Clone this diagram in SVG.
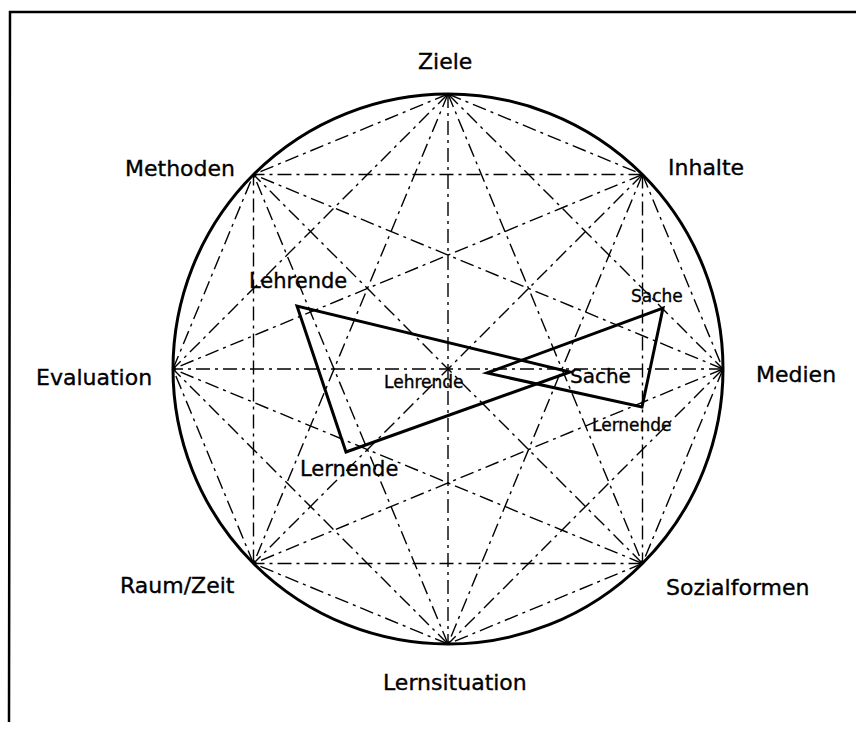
<svg xmlns="http://www.w3.org/2000/svg" width="856" height="730" viewBox="0 0 856 730">
<style>
.frame{stroke:#000;stroke-width:2.5;fill:none}
.circle{stroke:#000;stroke-width:3;fill:none}
.chord{stroke:#000;stroke-width:1.4;fill:none;stroke-dasharray:14 5 3 5}
.tri{stroke:#000;stroke-width:3;fill:none;stroke-linejoin:miter}
text{font-family:"DejaVu Sans","Liberation Sans",sans-serif;fill:#000;stroke:#000;stroke-width:0.35}
.lbl{font-size:22px}
.mid{font-size:20px}
.sm{font-size:17px}
</style>
<rect width="856" height="730" fill="#fff"/>
<g id="frame">
<path class="frame" d="M856,12 L10,12 L9,722"/>
</g>
<g id="connectors">
<line class="chord" x1="448" y1="94" x2="642.5" y2="174.5"/>
<line class="chord" x1="448" y1="94" x2="723" y2="369"/>
<line class="chord" x1="448" y1="94" x2="642.5" y2="563.5"/>
<line class="chord" x1="448" y1="94" x2="448" y2="644"/>
<line class="chord" x1="448" y1="94" x2="253.5" y2="563.5"/>
<line class="chord" x1="448" y1="94" x2="173" y2="369"/>
<line class="chord" x1="448" y1="94" x2="253.5" y2="174.5"/>
<line class="chord" x1="642.5" y1="174.5" x2="723" y2="369"/>
<line class="chord" x1="642.5" y1="174.5" x2="642.5" y2="563.5"/>
<line class="chord" x1="642.5" y1="174.5" x2="448" y2="644"/>
<line class="chord" x1="642.5" y1="174.5" x2="253.5" y2="563.5"/>
<line class="chord" x1="642.5" y1="174.5" x2="173" y2="369"/>
<line class="chord" x1="642.5" y1="174.5" x2="253.5" y2="174.5"/>
<line class="chord" x1="723" y1="369" x2="642.5" y2="563.5"/>
<line class="chord" x1="723" y1="369" x2="448" y2="644"/>
<line class="chord" x1="723" y1="369" x2="253.5" y2="563.5"/>
<line class="chord" x1="723" y1="369" x2="173" y2="369"/>
<line class="chord" x1="723" y1="369" x2="253.5" y2="174.5"/>
<line class="chord" x1="642.5" y1="563.5" x2="448" y2="644"/>
<line class="chord" x1="642.5" y1="563.5" x2="253.5" y2="563.5"/>
<line class="chord" x1="642.5" y1="563.5" x2="173" y2="369"/>
<line class="chord" x1="642.5" y1="563.5" x2="253.5" y2="174.5"/>
<line class="chord" x1="448" y1="644" x2="253.5" y2="563.5"/>
<line class="chord" x1="448" y1="644" x2="173" y2="369"/>
<line class="chord" x1="448" y1="644" x2="253.5" y2="174.5"/>
<line class="chord" x1="253.5" y1="563.5" x2="173" y2="369"/>
<line class="chord" x1="253.5" y1="563.5" x2="253.5" y2="174.5"/>
<line class="chord" x1="173" y1="369" x2="253.5" y2="174.5"/>
</g>
<g id="circle">
<circle class="circle" cx="448" cy="369" r="275"/>
</g>
<g id="node-ziele"><text class="lbl" x="418" y="69">Ziele</text></g>
<g id="node-inhalte"><text class="lbl" x="668" y="175">Inhalte</text></g>
<g id="node-medien"><text class="lbl" x="756" y="382">Medien</text></g>
<g id="node-sozialformen"><text class="lbl" x="666" y="595">Sozialformen</text></g>
<g id="node-lernsituation"><text class="lbl" x="383" y="690">Lernsituation</text></g>
<g id="node-raumzeit"><text class="lbl" x="120" y="593">Raum/Zeit</text></g>
<g id="node-evaluation"><text class="lbl" x="36" y="385">Evaluation</text></g>
<g id="node-methoden"><text class="lbl" x="125" y="176">Methoden</text></g>
<g id="triangle-big">
<polygon class="tri" points="297,306 346,452 570,372"/>
<text class="lbl" x="249" y="288" style="font-size:21px">Lehrende</text>
<text class="lbl" x="300" y="476" style="font-size:21px">Lernende</text>
<text class="mid" x="570" y="383">Sache</text>
</g>
<g id="triangle-small">
<polygon class="tri" points="487,373 663,308 642,407"/>
<text class="sm" x="384" y="388">Lehrende</text>
<text class="sm" x="631" y="302">Sache</text>
<text class="sm" x="592" y="431">Lernende</text>
</g>
</svg>
